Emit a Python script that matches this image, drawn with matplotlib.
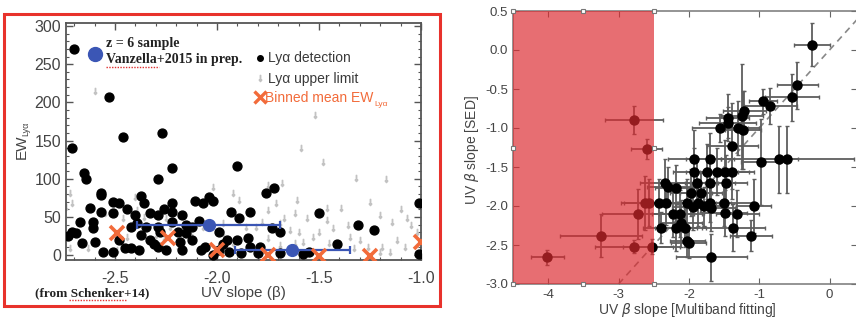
import matplotlib
matplotlib.use("Agg")
import matplotlib.pyplot as plt
from matplotlib.patches import Rectangle
from matplotlib.lines import Line2D

plt.rcParams['font.family'] = ['Liberation Sans', 'DejaVu Sans']
plt.rcParams['axes.unicode_minus'] = False
plt.rcParams['mathtext.fontset'] = 'custom'
plt.rcParams['mathtext.rm'] = 'Liberation Sans'

# ---------------- Left panel data (EW_Lya vs UV slope) ----------------
det_x = [-2.70, -2.71, -2.53, -2.46, -2.27, -2.22, -1.90, -2.29, -2.65, -2.64,
         -1.76, -1.72, -1.50, -1.31, -1.23, -1.41, -1.01, -1.01,
         -2.57, -2.51, -2.48, -2.37, -2.36, -2.33, -2.29, -2.22, -2.22, -2.57,
         -2.51, -2.67, -2.61, -2.61, -2.71, -2.69, -2.66, -2.73, -2.60, -2.56,
         -2.51, -2.48, -2.45, -2.42, -2.42, -2.39, -2.38, -2.37, -2.35, -2.33,
         -2.29, -2.28, -2.29, -2.25, -2.19, -2.18, -2.22,
         -2.11, -2.07, -2.04, -2.02, -1.93, -1.84, -1.89, -2.17, -2.15, -2.12,
         -2.17, -2.08, -2.06, -1.99, -1.95, -1.90, -1.85, -1.84, -1.94, -1.88,
         -1.79, -1.73, -1.69, -1.69, -1.80, -1.99, -2.02, -2.12, -2.15,
         -2.57, -2.62, -1.58, -1.55, -2.44, -2.31, -2.09, -1.97, -2.26, -2.40]
det_y = [270, 140, 207, 155, 160, 114, 116, 100, 107, 100,
         81, 88, 55, 39, 33, 15, 68, 2,
         79, 69, 68, 77, 68, 55, 52, 68, 56, 56,
         55, 43, 43, 35, 30, 29, 16, 25, 17, 4,
         4, 20, 9, 9, 37, 42, 7, 26, 37, 20,
         37, 30, 10, 7, 30, 17, 43,
         71, 68, 76, 71, 56, 56, 48, 52, 29, 20,
         7, 7, 10, 30, 20, 20, 22, 10, 4, 3,
         10, 35, 30, 3, 3, 7, 0, 37, 39,
         81, 62, 2, 4, 60, 14, 45, 14, 60, 52]

lim_x = [-2.60, -1.52, -1.48, -1.32, -1.17, -1.59, -1.46, -1.39, -1.56, -1.46,
         -1.43, -1.36, -1.50, -1.53, -1.35, -1.30, -1.20, -1.14, -1.07, -1.05,
         -1.12, -1.19, -1.26, -1.33, -1.58, -1.45, -1.08, -1.15, -1.20,
         -2.02, -1.92, -1.89, -1.75, -1.68, -1.71, -1.75, -1.61, -1.62, -1.67,
         -1.69, -1.64, -1.60, -1.78, -1.81, -1.86, -1.97, -1.97, -2.07, -2.12,
         -1.92, -1.75, -1.69, -1.62,
         -2.72, -2.74, -2.71, -2.55, -2.39, -2.46, -2.36, -2.25, -2.23, -2.44,
         -2.72, -2.63, -2.49, -2.30, -2.26, -2.19, -2.40, -1.02, -1.10, -1.25]
lim_y = [215, 183, 122, 101, 100, 140, 62, 62, 48, 46,
         35, 39, 30, 24, 24, 20, 52, 43, 48, 39,
         20, 10, 10, 9, 17, 16, 10, 4, 4,
         89, 81, 72, 92, 94, 68, 59, 72, 55, 48,
         42, 33, 30, 43, 37, 37, 42, 29, 37, 24,
         16, 22, 13, 16,
         81, 63, 68, 55, 59, 48, 50, 48, 37, 24,
         9, 9, 7, 26, 22, 10, 76, 30, 60, 70]

vz_x = [-2.04, -1.63]
vz_y = [40, 7]
vz_xerr = [0.35, 0.28]

bin_x = [-2.49, -2.24, -2.00, -1.75, -1.50, -1.25, -1.00]
bin_y = [29, 22, 7, 0, -1, -1, 17]

# ---------------- Right panel data (beta SED vs beta multiband) ----------------
rx = [-4.01, -3.25, -2.78, -2.60, -2.73, -2.78, -2.62, -2.56, -2.53,
      -0.25, -0.46, -0.535, -0.95, -0.84, -1.21, -1.25, -1.45, -1.45, -1.56,
      -1.30, -1.23, -1.38, -0.72, -0.60, -0.98, -1.92, -1.70, -1.92, -1.74,
      -1.60, -1.49, -1.38, -1.89, -1.70, -1.47, -2.34, -2.29, -2.18, -1.97,
      -1.83, -2.43, -2.32, -2.02, -1.87, -1.70, -1.78, -1.50, -1.08, -2.22,
      -2.12, -1.94, -1.69, -1.48, -1.31, -2.40, -2.18, -2.05, -2.11, -1.37,
      -2.02, -2.00, -1.12, -1.68]
ry = [-2.66, -2.38, -0.90, -1.27, -2.10, -2.52, -1.96, -1.96, -2.52,
      0.07, -0.455, -0.605, -0.66, -0.72, -0.78, -0.85, -0.87, -0.93, -1.00,
      -1.00, -1.03, -1.23, -1.40, -1.40, -1.44, -1.40, -1.40, -1.56, -1.56,
      -1.56, -1.56, -1.56, -1.70, -1.70, -1.70, -1.70, -1.75, -1.77, -1.83,
      -1.83, -1.96, -1.96, -1.96, -1.96, -1.96, -2.00, -1.96, -2.00, -2.10,
      -2.10, -2.01, -2.02, -2.09, -2.10, -2.28, -2.28, -2.28, -2.22, -2.28,
      -2.45, -2.47, -2.38, -2.66]
rxerr = [0.24, 0.58, 0.41, 0.22, 0.50, 0.55, 0.30, 0.40, 0.40,
         0.25, 0.29, 0.38, 0.20, 0.38, 0.30, 0.30, 0.30, 0.40, 0.40,
         0.30, 0.25, 0.36, 0.27, 0.95, 0.28, 0.37, 0.34, 0.30, 0.30,
         0.30, 0.35, 0.30, 0.30, 0.35, 0.30, 0.35, 0.30, 0.30, 0.30,
         0.30, 0.30, 0.35, 0.40, 0.30, 0.30, 0.25, 0.40, 0.25, 0.30,
         0.30, 0.30, 0.35, 0.30, 0.30, 0.25, 0.30, 0.30, 0.30, 0.45,
         0.25, 0.25, 0.30, 0.50]
ryerr = [0.10, 0.28, 0.18, 0.13, 0.32, 0.08, 0.35, 0.30, 0.10,
         0.27, 0.30, 0.30, 0.16, 0.23, 0.25, 0.67, 0.30, 0.20, 0.18,
         0.35, 0.50, 0.55, 0.43, 0.43, 0.55, 0.37, 0.33, 0.30, 0.35,
         0.30, 0.40, 0.35, 0.30, 0.30, 0.35, 0.30, 0.25, 0.30, 0.30,
         0.25, 0.30, 0.28, 0.30, 0.30, 0.25, 0.25, 0.30, 0.35, 0.30,
         0.30, 0.30, 0.30, 0.30, 0.30, 0.20, 0.30, 0.25, 0.30, 0.30,
         0.20, 0.20, 0.20, 0.30]

handle_x = [-4.5, -3.5, -2.5, -4.5, -2.5, -4.5, -3.5, -2.5]
handle_y = [0.5, 0.5, 0.5, -1.25, -1.25, -3.0, -3.0, -3.0]

W, H = 856, 321
fig = plt.figure(figsize=(W / 100, H / 100), dpi=100)

def fx(px):
    return px / W

def fy(py):
    return 1 - py / H

# red frame around left panel
fig.add_artist(Rectangle((fx(4), fy(306)), fx(440) - fx(4), fy(14) - fy(306),
                         transform=fig.transFigure, fill=False,
                         edgecolor='#e8322c', linewidth=2.2))

# ---------------- Left axes ----------------
ax1 = fig.add_axes([fx(66), fy(260), fx(421) - fx(66), fy(23) - fy(260)])
ax1.set_xlim(-2.74, -1.0)
ax1.set_ylim(-6.5, 304)
ax1.plot(lim_x, lim_y, linestyle='none', marker=r'$\downarrow$',
         color='#c2c2c2', markersize=4.5, zorder=2)
ax1.plot(det_x, det_y, 'o', color='black', markersize=6.4, zorder=3)
ax1.errorbar(vz_x, vz_y, xerr=vz_xerr, fmt='o', color='#3b56b5',
             markersize=8.5, elinewidth=1.6, capsize=3, capthick=1.6, zorder=5)
ax1.plot(bin_x, bin_y, 'x', color='#f26b3a', markersize=10, mew=2.6, zorder=6)

# legend items
ax1.plot([-2.60], [264], 'o', color='#3b56b5', markersize=10, zorder=7)
ax1.text(-2.545, 277, 'z = 6 sample', family='Liberation Serif', weight='bold',
         fontsize=10, va='center', ha='left', color='#222')
ax1.text(-2.545, 256, 'Vanzella+2015 in prep.', family='Liberation Serif',
         weight='bold', fontsize=10, va='center', ha='left', color='#222')
ax1.plot([-1.79], [258], 'o', color='black', markersize=4)
ax1.text(-1.75, 258, 'Lyα detection', fontsize=10, color='#3a3a3a',
         va='center', ha='left')
ax1.plot([-1.79], [232], linestyle='none', marker=r'$\downarrow$',
         color='#c2c2c2', markersize=4.5)
ax1.text(-1.75, 231, 'Lyα upper limit', fontsize=10, color='#3a3a3a',
         va='center', ha='left')
ax1.plot([-1.79], [207], 'x', color='#f26b3a', markersize=9, mew=2.4)
t = ax1.text(-1.765, 206, 'Binned mean EW', fontsize=10,
             color='#f26b3a', va='center', ha='left')
ax1.annotate('Lyα', xy=(1, 0), xycoords=t, xytext=(1, -2),
             textcoords='offset points', fontsize=6, color='#f26b3a',
             va='bottom', ha='left')

ax1.set_xticks([-2.5, -2.0, -1.5, -1.0])
ax1.set_xticklabels(['-2.5', '-2.0', '-1.5', '-1.0'])
ax1.set_yticks([0, 50, 100, 150, 200, 250, 300])
ax1.set_xticks([v / 10 for v in range(-27, -9)], minor=True)
ax1.set_yticks(list(range(0, 305, 10)), minor=True)
ax1.tick_params(which='both', direction='in', top=True, right=True,
                colors='#555555', labelcolor='#444444', labelsize=11.5)
ax1.tick_params(which='major', length=5, width=1)
ax1.tick_params(which='minor', length=2.5, width=0.8)
ax1.tick_params(axis='x', pad=8)
for s in ax1.spines.values():
    s.set_color('#555555')
    s.set_linewidth(1.3)

fig.text(fx(243), fy(293), 'UV slope (β)', fontsize=11, color='#444444',
         ha='center', va='center')
fig.text(fx(92), fy(293), '(from Schenker+14)', family='Liberation Serif',
         weight='bold', fontsize=9.5, color='#222', ha='center', va='center')
fig.text(fx(22), fy(147), 'EW', fontsize=11, color='#444444', rotation=90,
          ha='center', va='center')
fig.text(fx(26), fy(129), 'Lyα', fontsize=6.5, color='#444444', rotation=90,
         ha='center', va='center')

# spell-check squiggles
fig.add_artist(Line2D([fx(106), fx(159)], [fy(67), fy(67)], color='#e03030',
                      linestyle=(0, (1, 1)), linewidth=1.0))
fig.add_artist(Line2D([fx(69), fx(127)], [fy(300), fy(300)], color='#e03030',
                      linestyle=(0, (1, 1)), linewidth=1.0))

# ---------------- Right axes ----------------
ax2 = fig.add_axes([fx(513), fy(284), fx(857) - fx(513), fy(11) - fy(284)])
ax2.set_xlim(-4.5, 0.39)
ax2.set_ylim(-3.0, 0.5)
ax2.plot([-3.0, 0.5], [-3.0, 0.5], linestyle=(0, (4, 3)), color='#888888',
         linewidth=1.2, zorder=1)
ax2.errorbar(rx, ry, xerr=rxerr, yerr=ryerr, fmt='o', color='black',
             ecolor='#5e5e5e', elinewidth=1.3, capsize=1.5, capthick=1,
             markersize=6.5, zorder=3)
ax2.axvspan(-4.5, -2.5, color='#dd2a2f', alpha=0.68, linewidth=0, zorder=4)
ax2.plot(handle_x, handle_y, 's', mfc='white', mec='#777777', mew=0.8,
         markersize=3.5, clip_on=False, zorder=10)

ax2.set_xticks([-4, -3, -2, -1, 0])
ax2.set_xticklabels(['-4', '-3', '-2', '-1', '0'])
ax2.set_yticks([0.5, 0.0, -0.5, -1.0, -1.5, -2.0, -2.5, -3.0])
ax2.set_yticklabels(['0.5', '0.0', '-0.5', '-1.0', '-1.5', '-2.0', '-2.5', '-3.0'])
ax2.tick_params(which='both', direction='in', top=True, right=True,
                colors='#666666', labelcolor='#444444', labelsize=9.5,
                length=4)
for s in ax2.spines.values():
    s.set_color('#777777')
    s.set_linewidth(1.1)

fig.text(fx(687), fy(310), r'UV $\beta$ slope [Multiband fitting]', fontsize=10,
         color='#444444', ha='center', va='center')
fig.text(fx(472), fy(150), r'UV $\beta$ slope [SED]', fontsize=10,
         color='#444444', rotation=90, ha='center', va='center')

fig.savefig('out.png', dpi=100)
